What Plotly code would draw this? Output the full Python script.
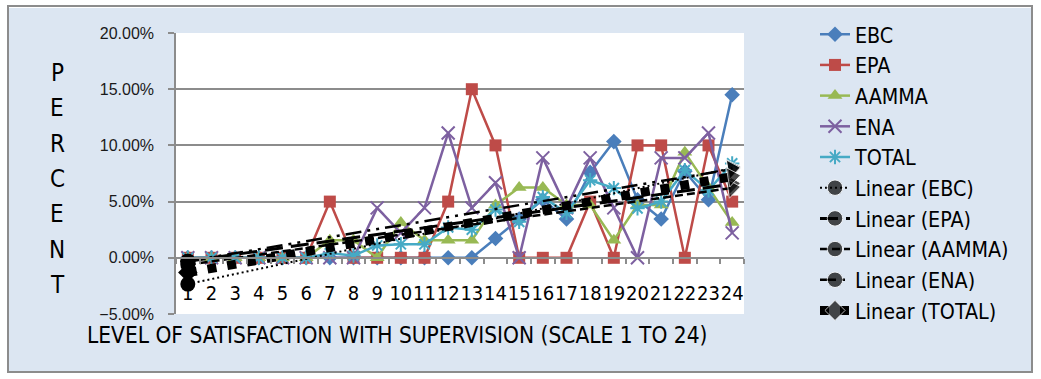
import numpy as np
import plotly.graph_objects as go

# Satisfaction scale (categories) and tick labels
levels = list(range(1, 25))
tick_labels = [str(k) for k in levels]

# Percent of respondents at each satisfaction level
ebc = [0, 0, 0, 0, 0, 0, 0, 0, 0, 0, 0, 0, 0, 1.72, 3.45, 5.17, 3.45, 7.6, 10.34, 5.17, 3.45, 7.7, 5.17, 14.5]
epa = [0, 0, 0, 0, 0, 0, 5, 0, 0, 0, 0, 5, 15, 10, 0, 0, 0, 5, 0, 10, 10, 0, 10, 5]
aamma = [0, 0, 0, 0, 0, 0, 1.56, 1.56, 0, 3.13, 1.56, 1.56, 1.56, 4.69, 6.25, 6.25, 4.69, 4.69, 1.56, 4.69, 4.69, 9.38, 6.25, 3.13]
ena = [0, 0, 0, 0, 0, 0, 0, 0, 4.44, 2.22, 4.44, 11.11, 4.44, 6.67, 0, 8.89, 4.44, 8.89, 4.44, 0, 8.89, 8.89, 11.11, 2.22]
total = [0, 0, 0, 0, 0, 0, 0.4, 0.2, 1.1, 1.2, 1.2, 2.7, 2.5, 4.3, 3.2, 5.4, 4.0, 6.9, 6.2, 4.4, 5.0, 7.8, 6.0, 8.4]

series_names = ["EBC", "EPA", "AAMMA", "ENA", "TOTAL"]
series_values = [ebc, epa, aamma, ena, total]
colors = ["#4A7EBB", "#BE4B48", "#98B954", "#7D60A0", "#46AAC5"]
symbols = ["diamond", "square", "triangle-up", "x-thin", "asterisk"]
marker_sizes = [12, 12, 13, 13, 12]

NARROW = "Liberation Sans Narrow, DejaVu Sans Condensed, Liberation Sans, sans-serif"
REGULAR = "Liberation Sans, Arial, sans-serif"
GRID = "#8c8c8c"

fig = go.Figure()

for name, vals, col, sym, ms in zip(series_names, series_values, colors, symbols, marker_sizes):
    fig.add_trace(go.Scatter(
        x=levels, y=vals, name=name, mode="lines+markers",
        line=dict(color=col, width=2.5),
        marker=dict(symbol=sym, size=ms, color=col,
                    line=dict(color=col, width=2 if sym in ("x-thin", "asterisk") else 0)),
    ))

# Linear trend lines (least-squares fit of each series), with a start cap and an arrow head
trend_dash = ["2px,3px", "18px,8px", "8px,4px", "16px,6px,3px,6px,3px,6px", "9px,11px"]
trend_width = [2, 3, 2.5, 2.5, 9]
start_symbol = ["circle", "circle", "circle", "circle", "diamond"]
ends = [levels[0], levels[-1]]
trend_fits = []
for name, vals, dash, w, ss in zip(series_names, series_values, trend_dash, trend_width, start_symbol):
    slope, intercept = np.polyfit(levels, vals, 1)
    fit = [slope * x + intercept for x in ends]
    trend_fits.append(fit)
    fig.add_trace(go.Scatter(
        x=ends, y=fit, name=f"Linear ({name})", mode="lines+markers",
        line=dict(color="black", width=w, dash=dash),
        marker=dict(symbol=[ss, "triangle-up"], size=[14, 17], color="black", angleref="previous"),
    ))

# Start caps of the trend lines
fig.add_trace(go.Scatter(
    x=[ends[0]] * len(trend_fits), y=[f[0] for f in trend_fits],
    mode="markers", showlegend=False, hoverinfo="skip",
    marker=dict(symbol=start_symbol, size=15, color="black"),
))

fig.update_layout(
    width=1041, height=379,
    margin=dict(l=176, r=297, t=33, b=65),
    paper_bgcolor="#DCE6F2",
    plot_bgcolor="white",
    font=dict(family=NARROW, color="black"),
    showlegend=True,
    legend=dict(
        x=1.125, y=1.068, xanchor="left", yanchor="top", maxheight=370, tracegroupgap=0,
        bgcolor="rgba(0,0,0,0)", font=dict(family=NARROW, size=21.3, color="black"),
    ),
    xaxis=dict(
        range=[0.5, 24.5], anchor="free", position=0.2,
        tickmode="array", tickvals=levels, ticktext=tick_labels, tickangle=0,
        ticks="", showgrid=False, zeroline=False,
        showline=True, linecolor=GRID, linewidth=1.5,
        tickfont=dict(family=NARROW, size=20, color="black"),
        ticklabelstandoff=17,
        minor=dict(ticks="outside", tickmode="linear", tick0=0.5, dtick=1,
                   ticklen=5, tickcolor=GRID, tickwidth=1.5, showgrid=False),
    ),
    yaxis=dict(
        range=[-5, 20], dtick=5, tick0=0, tickformat=".2f", ticksuffix="%",
        showgrid=True, gridcolor=GRID, gridwidth=1.5, zeroline=False,
        showline=True, linecolor=GRID, linewidth=1.5,
        ticks="outside", ticklen=6, tickcolor=GRID, tickwidth=1.5,
        tickfont=dict(family=REGULAR, size=16, color="#1a1a1a"),
        ticklabelstandoff=11,
    ),
)

# Axis titles
fig.add_annotation(
    text="LEVEL OF SATISFACTION WITH SUPERVISION (SCALE 1 TO 24)",
    xref="paper", yref="paper", x=0.389, y=-0.075, xanchor="center", yanchor="middle",
    showarrow=False, font=dict(family=NARROW, size=22.5, color="black"),
)
for i, letter in enumerate("PERCENT"):
    fig.add_annotation(
        text=letter, xref="paper", yref="paper",
        x=(57 - 176) / 568, y=(314 - (73 + 35.3 * i)) / 281,
        xanchor="center", yanchor="middle", showarrow=False,
        font=dict(family=NARROW, size=24, color="black"),
    )

# Chart frame with white surround
fig.add_shape(type="rect", xref="paper", yref="paper",
              x0=-176 / 568, x1=(1041 - 176) / 568, y0=(314 - 379) / 281, y1=314 / 281,
              line=dict(color="white", width=16), fillcolor="rgba(0,0,0,0)", layer="above")
fig.add_shape(type="rect", xref="paper", yref="paper",
              x0=(8 - 176) / 568, x1=(1032 - 176) / 568, y0=(314 - 372) / 281, y1=(314 - 6) / 281,
              line=dict(color="#8c8c8c", width=2), fillcolor="rgba(0,0,0,0)", layer="above")

fig.write_html("out.html")
